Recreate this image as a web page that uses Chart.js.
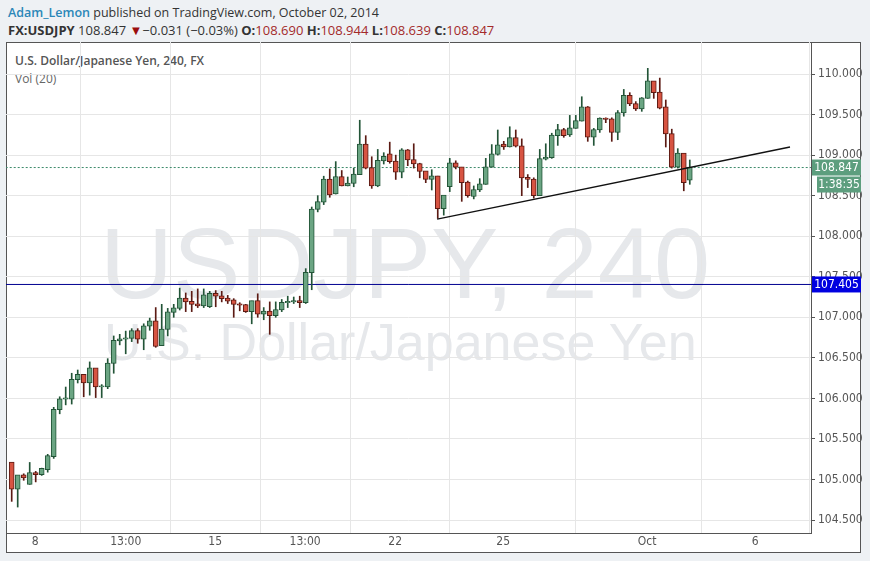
<!DOCTYPE html>
<html><head><meta charset="utf-8">
<script src="https://cdn.jsdelivr.net/npm/chart.js@4.4.0/dist/chart.umd.min.js"></script>
<style>
body{margin:0;background:#eef1f4;width:870px;height:561px;overflow:hidden;font-family:"Open Sans",sans-serif;position:relative}
#frame{position:absolute;left:6px;top:42px;width:855px;height:511px;background:#fff;border:1px solid #555;box-sizing:border-box}
.wm{position:absolute;color:#e6e8eb;font-family:"Liberation Sans",Arial,sans-serif;white-space:nowrap}
#c{position:absolute;left:0;top:0}
.hd{position:absolute;left:8px;white-space:nowrap;font-size:13.5px;color:#333}
</style></head><body>
<div class="hd" style="top:4px;font-size:12.5px"><span style="color:#2a87b8;font-weight:600">Adam_Lemon</span> published on TradingView.com, October 02, 2014</div>
<div class="hd" style="top:21px;font-size:13px"><b>FX:USDJPY</b> 108.847 <span style="color:#9b0d0d">▼</span>−0.031 (−0.03%) <b>O:</b><span style="color:#a32a2a">108.690</span> <b>H:</b><span style="color:#a32a2a">108.944</span> <b>L:</b><span style="color:#a32a2a">108.639</span> <b>C:</b><span style="color:#a32a2a">108.847</span></div>
<div id="frame"></div>
<div class="wm" style="left:100px;top:206px;font-size:101px">USDJPY, 240</div>
<div class="wm" style="left:104px;top:312px;font-size:52px">U.S. Dollar/Japanese Yen</div>
<div style="position:absolute;left:15px;top:52px;font-size:12px;color:#555;font-weight:600">U.S. Dollar/Japanese Yen, 240, FX</div>
<div style="position:absolute;left:15px;top:70px;font-size:12px;color:#666">Vol (20)</div>
<canvas id="c" width="870" height="561"></canvas>
<script>
const opens=[105.21,104.88,105.05,104.94,105.08,105.06,105.12,105.28,105.86,105.99,105.99,106.23,106.29,106.19,106.37,106.14,106.14,106.43,106.71,106.73,106.74,106.83,106.73,106.89,106.95,106.65,106.85,107.06,107.11,107.23,107.19,107.16,107.14,107.13,107.29,107.26,107.23,107.21,107.16,107.15,107.07,107.2,107.04,107.07,107.02,107.09,107.18,107.19,107.20,107.18,107.55,108.33,108.42,108.70,108.52,108.73,108.62,108.65,108.76,109.13,108.84,108.62,108.93,109.01,108.92,108.79,109.06,108.94,108.89,108.80,108.70,108.74,108.34,108.61,108.90,108.85,108.66,108.49,108.57,108.64,108.85,109.01,109.13,109.10,109.21,109.11,108.72,108.70,108.50,108.95,108.97,109.24,109.31,109.25,109.33,109.42,109.59,109.22,109.31,109.45,109.44,109.28,109.52,109.73,109.63,109.57,109.70,109.91,109.77,109.59,109.26,108.85,109.02,108.69];
const highs=[105.21,105.05,105.07,105.21,105.10,105.14,105.31,105.89,106.02,106.14,106.31,106.35,106.29,106.45,106.37,106.17,106.49,106.77,106.79,106.83,106.86,106.86,106.92,106.99,107.12,107.16,107.11,107.16,107.36,107.30,107.32,107.35,107.35,107.32,107.33,107.32,107.27,107.23,107.18,107.16,107.2,107.29,107.12,107.19,107.19,107.22,107.26,107.25,107.26,107.60,108.36,108.50,108.74,108.83,108.92,108.81,108.73,108.84,109.43,109.24,108.98,109.07,109.03,109.16,109.0,109.08,109.07,109.14,108.90,108.80,108.82,108.74,108.50,108.96,108.93,108.85,108.68,108.62,108.71,108.96,109.13,109.31,109.17,109.35,109.31,109.2,108.76,108.72,109.07,109.14,109.27,109.38,109.33,109.49,109.49,109.72,109.60,109.33,109.46,109.46,109.46,109.55,109.81,109.77,109.66,109.71,110.07,109.91,109.95,109.68,109.32,109.08,109.02,108.94];
const lows=[104.73,104.66,104.99,104.94,104.97,105.05,105.09,105.26,105.81,105.92,105.93,106.19,106.02,106.04,106.01,106.01,106.12,106.31,106.66,106.55,106.70,106.68,106.60,106.84,106.63,106.65,106.77,107.0,107.09,107.07,107.07,107.12,107.12,107.12,107.13,107.19,107.17,107.0,107.08,107.06,106.92,107.0,106.97,106.79,107.0,107.07,107.12,107.17,107.12,107.17,107.34,108.3,108.39,108.48,108.52,108.62,108.62,108.61,108.76,108.83,108.59,108.61,108.89,108.9,108.7,108.72,108.87,108.84,108.72,108.66,108.57,108.22,108.26,108.55,108.83,108.43,108.48,108.46,108.55,108.64,108.85,109.0,109.07,109.10,109.10,108.5,108.6,108.47,108.50,108.94,108.96,109.12,109.22,109.23,109.33,109.42,109.17,109.12,109.28,109.40,109.17,109.19,109.48,109.61,109.55,109.54,109.70,109.70,109.57,109.10,108.84,108.84,108.56,108.64];
const closes=[104.88,105.05,105.02,105.08,105.06,105.13,105.29,105.86,105.99,106.00,106.23,106.29,106.19,106.37,106.14,106.15,106.43,106.71,106.73,106.74,106.83,106.73,106.89,106.95,106.64,106.85,107.06,107.11,107.23,107.19,107.16,107.14,107.27,107.29,107.26,107.23,107.20,107.16,107.15,107.07,107.2,107.04,107.07,107.02,107.09,107.18,107.19,107.20,107.18,107.55,108.33,108.42,108.70,108.51,108.73,108.62,108.65,108.76,109.13,108.84,108.62,108.93,108.98,108.92,108.79,109.06,108.94,108.89,108.80,108.70,108.74,108.34,108.50,108.90,108.85,108.66,108.50,108.57,108.64,108.85,109.01,109.12,109.10,109.21,109.11,108.72,108.70,108.50,108.95,108.97,109.24,109.31,109.24,109.33,109.42,109.59,109.22,109.31,109.45,109.44,109.28,109.52,109.73,109.63,109.57,109.70,109.91,109.77,109.58,109.26,108.85,109.02,108.66,108.847];
const xTickPos=[3.9,19,33.9,48.9,63.9,81.9,105.9,123.9];
const xTickLabels=['8','13:00','15','13:00','22','25','Oct','6'];
const trendX=[70.9,129.7], trendY=[108.21,109.10];
const hLine=107.405, lastPrice=108.847, countdown='1:38:35';

const up=closes.map((c,i)=>c>=opens[i]);
const wick=opens.map((o,i)=>({x:i,y:[lows[i],highs[i]]}));
const body=opens.map((o,i)=>({x:i,y:[Math.min(o,closes[i]),Math.max(o,closes[i])+0.006]}));
const gF='#6ba583',gB='#225437',rF='#d75442',rB='#5b1a13';
const font={family:'"Liberation Sans Narrow","DejaVu Sans Condensed",Arial',size:12};
const labels={id:'lbl',afterDraw(ch){const y=ch.scales.y,c=ch.ctx,x0=ch.chartArea.right+1;
 c.save();c.font='12px '+font.family;c.textBaseline='middle';c.textAlign='center';
 const box=(v,txt,bg,dy,w)=>{const py=y.getPixelForValue(v)+dy;c.fillStyle=bg;c.fillRect(x0+(49-w),py-8,w,16);c.fillStyle='#fff';c.fillText(txt,x0+49-w/2,py);};
 box(hLine,'107.405','#0000e0',0,49);box(lastPrice,'108.847','#5d9e7e',0,49);box(lastPrice,countdown,'#5d9e7e',17,44);c.restore();}};
new Chart(document.getElementById('c'),{
 type:'bar',
 data:{datasets:[
  {type:'line',data:[{x:-1,y:hLine},{x:134,y:hLine}],borderColor:'#000090',borderWidth:1,pointRadius:0,order:5},
  {type:'line',data:[{x:-1,y:lastPrice},{x:134,y:lastPrice}],borderColor:'#3d8a6a',borderWidth:1,borderDash:[2,2],pointRadius:0,order:5},
  {data:wick,backgroundColor:up.map(u=>u?gB:rB),barThickness:1,grouped:false,order:3},
  {data:body,backgroundColor:up.map(u=>u?gF:rF),borderColor:up.map(u=>u?gB:rB),borderWidth:1,borderSkipped:false,barThickness:5,grouped:false,order:2},
  {type:'line',data:trendX.map((x,i)=>({x,y:trendY[i]})),borderColor:'#111',borderWidth:1.3,pointRadius:0,order:1}
 ]},
 options:{responsive:false,animation:false,events:[],
  layout:{padding:{left:6,top:42,right:8,bottom:7}},
  plugins:{legend:{display:false},tooltip:{enabled:false}},
  scales:{
   x:{type:'linear',min:-0.95,max:133.2,offset:false,
    afterBuildTicks(s){s.ticks=xTickPos.map(v=>({value:v}));},
    afterFit(s){s.height=21;},
    ticks:{autoSkip:false,maxRotation:0,color:'#555',font,padding:2,callback:(v,i)=>xTickLabels[i]},
    grid:{color:'#e6e6e6',drawTicks:false},border:{color:'#555'}},
   y:{position:'right',min:104.34,max:110.395,
    afterBuildTicks(s){const t=[];for(let v=104.5;v<=110.001;v+=0.5)t.push({value:+v.toFixed(1)});s.ticks=t;},
    afterFit(s){s.width=51;},
    ticks:{color:'#555',font,padding:3,callback:v=>v.toFixed(3)},
    grid:{color:'#e6e6e6',tickLength:4,tickColor:'#555'},border:{color:'#555'}}
  }},
 plugins:[labels]
});
</script></body></html>
